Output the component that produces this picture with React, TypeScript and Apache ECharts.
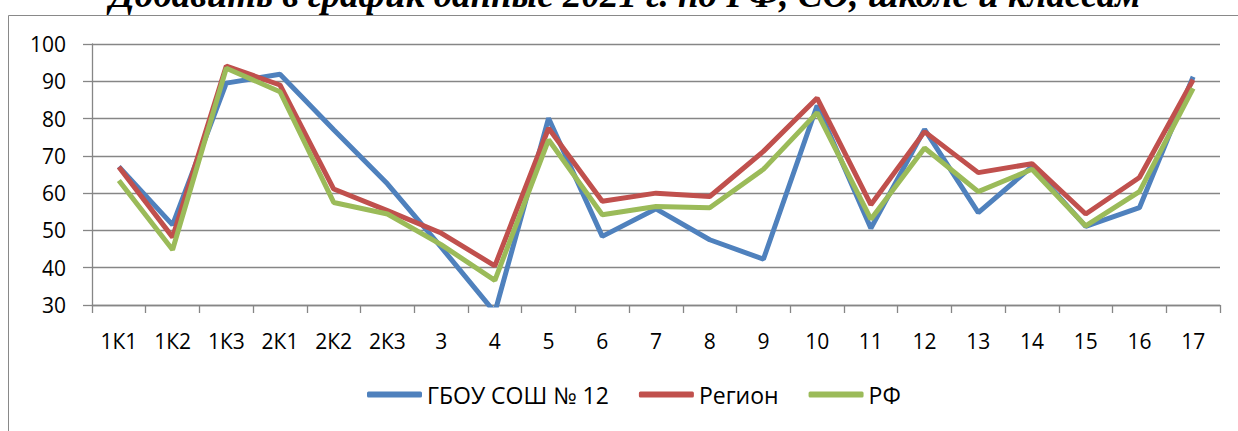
import React, { useEffect, useRef } from "react";
import * as echarts from "echarts";

const titleText = "Добавить в график данные 2021 г. по РФ, СО, школе и классам";
const categories = ["1К1", "1К2", "1К3", "2К1", "2К2", "2К3", "3", "4", "5", "6", "7", "8", "9", "10", "11", "12", "13", "14", "15", "16", "17"];
const seriesNames = ["ГБОУ СОШ № 12", "Регион", "РФ"];
const schoolValues = [67.1, 51.5, 89.5, 91.9, 77, 62.5, 45.5, 28, 80.1, 48.4, 55.8, 47.5, 42.3, 83.5, 50.6, 77.1, 54.8, 67.1, 51.1, 56.1, 91.2];
const regionValues = [67, 48.2, 94.1, 89, 61.1, 55.3, 49.3, 40.5, 77.4, 57.8, 60, 59.1, 71.2, 85.5, 56.9, 76.5, 65.5, 67.9, 54.4, 64.2, 90.4];
const rfValues = [63.4, 44.8, 93.5, 87.2, 57.5, 54.4, 46.2, 36.6, 74.3, 54.2, 56.4, 56.1, 66.4, 81.6, 53, 72.1, 60.4, 66.4, 51.2, 60.4, 88.1];
const yMin = 30;
const yMax = 100;
const yStep = 10;
const colors = ["#4F81BD", "#C0504D", "#9BBB59"];

export default function App() {
  const ref = useRef<HTMLDivElement>(null);
  useEffect(() => {
    const chart = echarts.init(ref.current!, null, { renderer: "svg" });
    const font = "'Open Sans', sans-serif";
    const values = [schoolValues, regionValues, rfValues];
    chart.setOption({
      animation: false,
      backgroundColor: "#ffffff",
      color: colors,
      graphic: [
        {
          type: "rect",
          shape: { x: 8.5, y: 15.5, width: 1300, height: 500 },
          style: { fill: "none", stroke: "#898989", lineWidth: 1 },
          silent: true,
        },
        {
          type: "text",
          x: 625,
          y: 13,
          style: {
            text: titleText,
            font: "italic bold 37px 'Liberation Serif', serif",
            fill: "#000000",
            textAlign: "center",
            textVerticalAlign: "bottom",
          },
        },
      ],
      grid: { left: 92, right: 18, top: 44, bottom: 126 },
      legend: {
        data: seriesNames.map((n) => ({ name: n, icon: "roundRect" })),
        top: 378,
        left: 362,
        itemWidth: 55,
        itemHeight: 6,
        itemGap: 30,
        textStyle: { fontFamily: font, fontSize: 23, color: "#000000" },
      },
      xAxis: {
        type: "category",
        data: categories,
        boundaryGap: true,
        axisLine: { lineStyle: { color: "#868686", width: 1.3 } },
        axisTick: { show: true, length: 8, lineStyle: { color: "#868686", width: 1.3 } },
        axisLabel: { fontFamily: font, fontSize: 21, color: "#000000", margin: 25, interval: 0 },
      },
      yAxis: {
        type: "value",
        min: yMin,
        max: yMax,
        interval: yStep,
        axisLine: { show: true, lineStyle: { color: "#868686", width: 1.3 } },
        axisTick: { show: true, length: 9, lineStyle: { color: "#868686", width: 1.3 } },
        axisLabel: { fontFamily: font, fontSize: 21, color: "#000000", margin: 26 },
        splitLine: { lineStyle: { color: "#868686", width: 1.3 } },
      },
      series: values.map((v, i) => ({
        name: seriesNames[i],
        type: "line",
        data: v,
        symbol: "none",
        clip: true,
        lineStyle: { width: 5, color: colors[i] },
        itemStyle: { color: colors[i] },
      })),
    });
    return () => chart.dispose();
  }, []);
  return <div ref={ref} style={{ position: "fixed", left: 0, top: 0, width: 1238, height: 431 }} />;
}
